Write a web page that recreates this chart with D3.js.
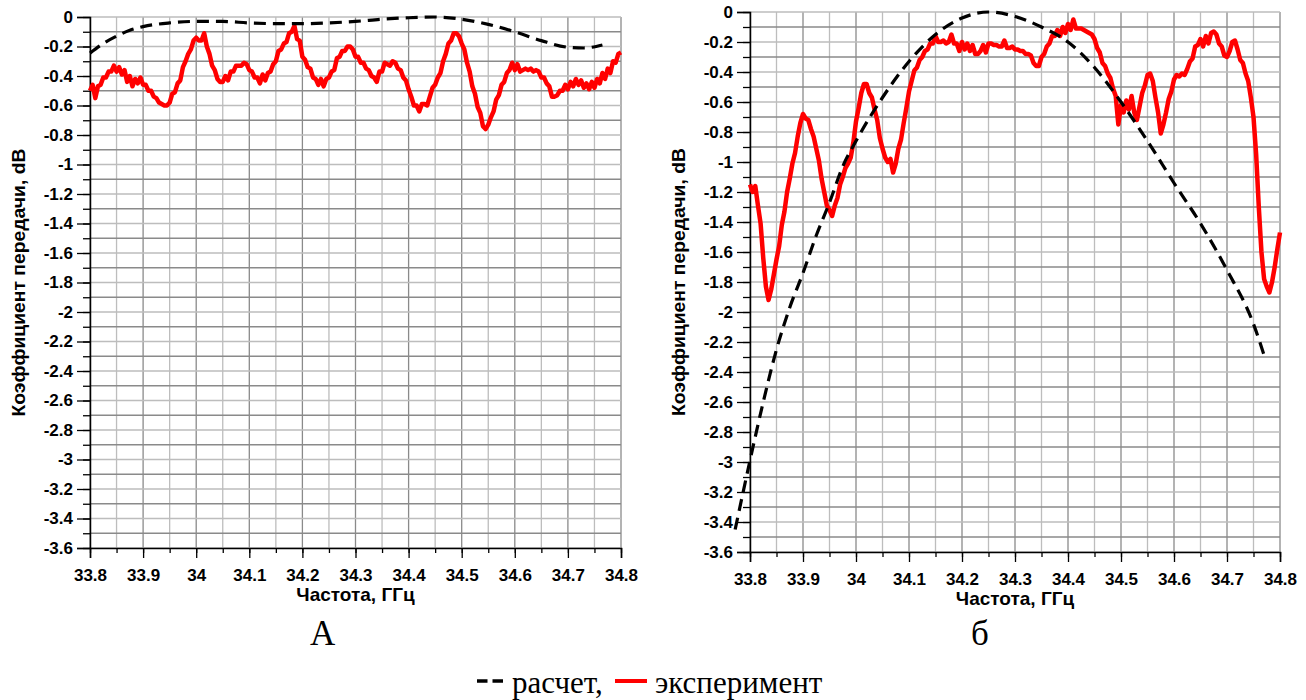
<!DOCTYPE html>
<html>
<head>
<meta charset="utf-8">
<script src="https://cdn.jsdelivr.net/npm/d3@7"></script>
<style>
  body { margin: 0; background: #fff; }
  svg { display: block; }
</style>
</head>
<body>
<div id="chart"></div>
<script>
// axis ticks
const xTicks = [33.8, 33.9, 34.0, 34.1, 34.2, 34.3, 34.4, 34.5, 34.6, 34.7, 34.8];
const yTicks = [0, -0.2, -0.4, -0.6, -0.8, -1, -1.2, -1.4, -1.6, -1.8, -2, -2.2, -2.4, -2.6, -2.8, -3, -3.2, -3.4, -3.6];

// measured curves are sampled every 5 MHz from 33.8 GHz
const expStart = 33.8, expStep = 0.005;

// panel A, experiment (red)
const expA = [
  -0.50,-0.46,-0.55,-0.47,-0.46,-0.41,-0.41,-0.37,-0.37,-0.33,
  -0.37,-0.34,-0.39,-0.36,-0.44,-0.40,-0.47,-0.42,-0.45,-0.41,
  -0.46,-0.46,-0.50,-0.50,-0.54,-0.55,-0.58,-0.59,-0.60,-0.60,
  -0.58,-0.52,-0.51,-0.45,-0.43,-0.34,-0.30,-0.25,-0.22,-0.16,
  -0.14,-0.16,-0.16,-0.11,-0.20,-0.25,-0.33,-0.36,-0.42,-0.44,
  -0.44,-0.40,-0.43,-0.37,-0.37,-0.33,-0.33,-0.33,-0.31,-0.32,
  -0.36,-0.37,-0.41,-0.41,-0.45,-0.39,-0.43,-0.38,-0.37,-0.32,
  -0.30,-0.23,-0.22,-0.18,-0.17,-0.11,-0.10,-0.06,-0.15,-0.16,
  -0.27,-0.29,-0.34,-0.35,-0.41,-0.42,-0.46,-0.42,-0.47,-0.42,
  -0.41,-0.37,-0.36,-0.28,-0.27,-0.23,-0.23,-0.20,-0.20,-0.22,
  -0.27,-0.27,-0.31,-0.31,-0.35,-0.36,-0.40,-0.41,-0.44,-0.37,
  -0.37,-0.31,-0.32,-0.33,-0.30,-0.31,-0.35,-0.36,-0.41,-0.43,
  -0.49,-0.54,-0.60,-0.60,-0.64,-0.59,-0.59,-0.60,-0.54,-0.48,
  -0.46,-0.41,-0.38,-0.30,-0.25,-0.18,-0.16,-0.11,-0.11,-0.13,
  -0.18,-0.22,-0.31,-0.37,-0.47,-0.52,-0.61,-0.65,-0.74,-0.76,
  -0.73,-0.68,-0.64,-0.56,-0.53,-0.46,-0.44,-0.38,-0.36,-0.31,
  -0.36,-0.32,-0.37,-0.36,-0.35,-0.36,-0.35,-0.37,-0.36,-0.37,
  -0.41,-0.41,-0.45,-0.47,-0.54,-0.54,-0.53,-0.50,-0.50,-0.46,
  -0.49,-0.44,-0.47,-0.42,-0.46,-0.43,-0.48,-0.45,-0.49,-0.44,
  -0.48,-0.42,-0.45,-0.38,-0.42,-0.35,-0.38,-0.30,-0.31,-0.25,
  -0.24
];

// panel A, calculation (dashed)
const calcAFreq = [33.80, 33.825, 33.85, 33.875, 33.90, 33.95, 34.0, 34.05, 34.1, 34.15, 34.2, 34.25, 34.3, 34.35, 34.4, 34.45, 34.5, 34.55, 34.6, 34.65, 34.7, 34.73, 34.765];
const calcA = [-0.245, -0.18, -0.13, -0.09, -0.065, -0.04, -0.03, -0.03, -0.04, -0.045, -0.045, -0.04, -0.03, -0.015, -0.005, 0, -0.015, -0.05, -0.1, -0.16, -0.205, -0.21, -0.19];

// panel б, experiment (red)
const expB = [
  -1.15,-1.20,-1.16,-1.29,-1.41,-1.64,-1.83,-1.92,-1.85,-1.75,
  -1.65,-1.56,-1.42,-1.33,-1.20,-1.11,-1.01,-0.94,-0.83,-0.74,
  -0.68,-0.71,-0.72,-0.78,-0.83,-0.91,-0.99,-1.11,-1.20,-1.29,
  -1.32,-1.36,-1.29,-1.24,-1.15,-1.10,-1.04,-1.01,-0.97,-0.87,
  -0.73,-0.64,-0.54,-0.48,-0.48,-0.54,-0.57,-0.65,-0.72,-0.84,
  -0.91,-0.97,-1.00,-0.98,-1.07,-1.01,-0.91,-0.85,-0.74,-0.64,
  -0.53,-0.46,-0.39,-0.37,-0.32,-0.30,-0.26,-0.25,-0.21,-0.21,
  -0.16,-0.20,-0.20,-0.19,-0.21,-0.20,-0.15,-0.21,-0.21,-0.26,
  -0.20,-0.25,-0.21,-0.26,-0.22,-0.28,-0.28,-0.26,-0.22,-0.27,
  -0.21,-0.21,-0.22,-0.22,-0.23,-0.23,-0.19,-0.24,-0.24,-0.23,
  -0.25,-0.25,-0.26,-0.26,-0.28,-0.28,-0.29,-0.34,-0.36,-0.36,
  -0.30,-0.28,-0.23,-0.21,-0.16,-0.16,-0.12,-0.16,-0.10,-0.14,
  -0.08,-0.12,-0.05,-0.11,-0.11,-0.11,-0.12,-0.13,-0.14,-0.15,
  -0.18,-0.24,-0.27,-0.34,-0.36,-0.41,-0.44,-0.51,-0.56,-0.75,
  -0.62,-0.67,-0.59,-0.65,-0.56,-0.67,-0.72,-0.63,-0.54,-0.49,
  -0.42,-0.41,-0.46,-0.57,-0.67,-0.81,-0.75,-0.67,-0.58,-0.53,
  -0.45,-0.42,-0.43,-0.41,-0.42,-0.38,-0.33,-0.31,-0.23,-0.22,
  -0.18,-0.23,-0.16,-0.21,-0.14,-0.13,-0.15,-0.21,-0.23,-0.29,
  -0.30,-0.26,-0.20,-0.19,-0.25,-0.32,-0.34,-0.41,-0.46,-0.57,
  -0.70,-0.95,-1.30,-1.60,-1.78,-1.83,-1.87,-1.80,-1.70,-1.58,
  -1.47
];

// panel б, calculation (dashed)
const calcBFreq = [33.772, 33.8, 33.825, 33.85, 33.875, 33.9, 33.925, 33.95, 33.975, 34.0, 34.05, 34.1, 34.15, 34.2, 34.25, 34.3, 34.35, 34.4, 34.45, 34.5, 34.55, 34.6, 34.65, 34.7, 34.75, 34.772];
const calcB = [-3.45, -2.99, -2.6, -2.25, -1.97, -1.74, -1.49, -1.27, -1.03, -0.86, -0.57, -0.33, -0.15, -0.04, 0, -0.03, -0.1, -0.2, -0.37, -0.6, -0.86, -1.14, -1.41, -1.72, -2.08, -2.31];

const yTitle = "Коэффициент передачи, dB";
const xTitle = "Частота, ГГц";

const svg = d3.select("#chart")
  .append("svg")
  .attr("width", 1306)
  .attr("height", 700);

const fmt = d => String(+d.toFixed(1));

function drawPanel(p) {
  const x = d3.scaleLinear().domain([33.8, 34.8]).range([p.left, p.right]);
  const y = d3.scaleLinear().domain([0, -3.6]).range([p.top, p.bottom]);
  const g = svg.append("g");

  // grid every 0.05 GHz and 0.1 dB, darker on the labelled values
  const xMinor = d3.range(0, 21).map(i => 33.8 + i * 0.05);
  const yMinor = d3.range(0, 37).map(i => -i * 0.1);
  g.selectAll(".vgrid")
    .data(xMinor)
    .join("line")
    .attr("x1", d => x(d)).attr("x2", d => x(d))
    .attr("y1", p.top).attr("y2", p.bottom)
    .attr("stroke", (d, i) => i % 2 ? "#bdbdbd" : "#8a8a8a")
    .attr("stroke-width", 1.3);
  g.selectAll(".hgrid")
    .data(yMinor)
    .join("line")
    .attr("x1", p.left).attr("x2", p.right)
    .attr("y1", d => y(d)).attr("y2", d => y(d))
    .attr("stroke", (d, i) => i % 2 ? "#8a8a8a" : "#bdbdbd")
    .attr("stroke-width", 1.3);

  // minor ticks
  g.append("g")
    .attr("transform", `translate(0,${p.bottom})`)
    .call(d3.axisBottom(x).tickValues(xMinor).tickSize(5).tickFormat(""))
    .call(a => a.select(".domain").remove());
  g.append("g")
    .attr("transform", `translate(${p.left},0)`)
    .call(d3.axisLeft(y).tickValues(yMinor).tickSize(7).tickFormat(""))
    .call(a => a.select(".domain").remove());

  // main axes
  const ax = g.append("g")
    .attr("transform", `translate(0,${p.bottom})`)
    .call(d3.axisBottom(x).tickValues(xTicks).tickSize(10).tickPadding(11).tickFormat(fmt));
  const ay = g.append("g")
    .attr("transform", `translate(${p.left},0)`)
    .call(d3.axisLeft(y).tickValues(yTicks).tickSize(13).tickPadding(4).tickFormat(fmt));
  [ax, ay].forEach(a => {
    a.select(".domain").attr("stroke", "#000").attr("stroke-width", 1.5);
    a.selectAll("text")
      .attr("font-family", "Liberation Sans, Arial, sans-serif")
      .attr("font-weight", "bold")
      .attr("font-size", "17px")
      .attr("fill", "#000");
  });
  svg.selectAll(".tick line").attr("stroke-width", 1.3);

  // axis titles
  g.append("text")
    .attr("x", (p.left + p.right) / 2)
    .attr("y", p.bottom + 53)
    .attr("text-anchor", "middle")
    .attr("font-family", "Liberation Sans, Arial, sans-serif")
    .attr("font-weight", "bold")
    .attr("font-size", "19px")
    .text(xTitle);
  g.append("text")
    .attr("transform", `translate(${p.left - 65},${(p.top + p.bottom) / 2}) rotate(-90)`)
    .attr("text-anchor", "middle")
    .attr("font-family", "Liberation Sans, Arial, sans-serif")
    .attr("font-weight", "bold")
    .attr("font-size", "18px")
    .attr("textLength", 268)
    .attr("lengthAdjust", "spacingAndGlyphs")
    .text(yTitle);

  // curves
  const line = d3.line().x(d => x(d[0])).y(d => y(d[1]));
  const expData = p.exp.map((v, i) => [expStart + i * expStep, v]);
  const calcData = p.calcFreq.map((f, i) => [f, p.calc[i]]);

  g.append("path")
    .datum(expData)
    .attr("fill", "none")
    .attr("stroke", "#ff0000")
    .attr("stroke-width", 4.5)
    .attr("stroke-linejoin", "round")
    .attr("d", line);

  g.append("path")
    .datum(calcData)
    .attr("fill", "none")
    .attr("stroke", "#000")
    .attr("stroke-width", 3.2)
    .attr("stroke-dasharray", "12,7")
    .attr("d", line.curve(d3.curveMonotoneX));

  // panel letter
  svg.append("text")
    .attr("x", p.letterX)
    .attr("y", 645)
    .attr("font-family", "Liberation Serif")
    .attr("font-size", "35px")
    .text(p.letter);
}

drawPanel({left: 90, right: 621, top: 17, bottom: 548, exp: expA, calcFreq: calcAFreq, calc: calcA, letter: "А", letterX: 310});
drawPanel({left: 750, right: 1280, top: 12, bottom: 552, exp: expB, calcFreq: calcBFreq, calc: calcB, letter: "б", letterX: 971});

// legend
const legend = svg.append("g").attr("font-family", "Liberation Serif").attr("font-size", "31px");
legend.append("line")
  .attr("x1", 477).attr("x2", 503).attr("y1", 681).attr("y2", 681)
  .attr("stroke", "#000").attr("stroke-width", 3.5).attr("stroke-dasharray", "10.5,5");
legend.append("text").attr("x", 512).attr("y", 693).text("расчет,");
legend.append("line")
  .attr("x1", 615).attr("x2", 647).attr("y1", 681).attr("y2", 681)
  .attr("stroke", "#ff0000").attr("stroke-width", 4);
legend.append("text").attr("x", 655).attr("y", 693).text("эксперимент");
</script>
</body>
</html>
